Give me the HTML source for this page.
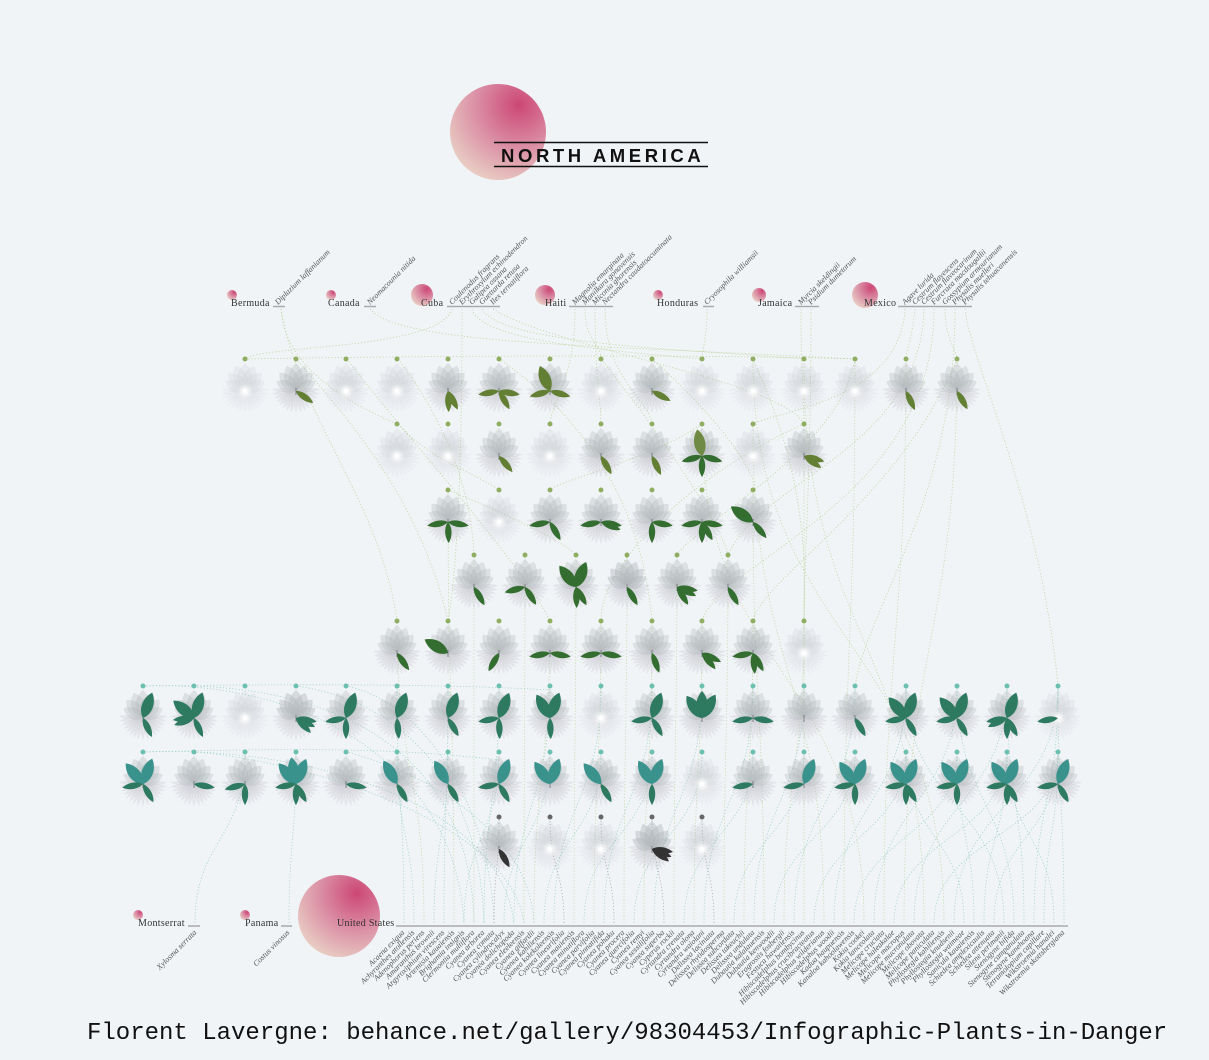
<!DOCTYPE html>
<html><head><meta charset="utf-8"><style>
html,body{margin:0;padding:0;background:#f1f4f7;}
svg{display:block}
.o{fill:#627f34}.g{fill:#346d30}.e{fill:#2e7a60}.t{fill:#3a928d}.k{fill:#333}
.sp{font-family:"Liberation Serif",serif;font-style:italic;font-size:8px;fill:#555}
.cn{font-family:"Liberation Serif",serif;font-size:10px;fill:#333;letter-spacing:.3px}
</style></head><body>
<svg width="1209" height="1060" viewBox="0 0 1209 1060" xmlns="http://www.w3.org/2000/svg">
<defs>
<radialGradient id="pk" cx="0.72" cy="0.22" r="0.95">
<stop offset="0" stop-color="#cc4775"/><stop offset="0.45" stop-color="#da8ba3"/><stop offset="1" stop-color="#ecdccb"/>
</radialGradient>
<filter id="bl" x="-2" y="-2" width="5" height="5"><feGaussianBlur stdDeviation="2.5"/></filter>
<path id="pt" d="M0,0C10,-6 10,-19 0,-28C-10,-19 -10,-6 0,0Z"/>
<path id="rt" d="M0,0C3,-8 2.6,-18 0,-24C-2.6,-18 -3,-8 0,0Z"/>
<g id="P" fill="#adb2b7" fill-opacity=".3">
<use href="#pt" transform="rotate(-64) scale(.78)"/><use href="#pt" transform="rotate(64) scale(.78)"/>
<use href="#pt" transform="rotate(-42) scale(.88)"/><use href="#pt" transform="rotate(42) scale(.88)"/>
<use href="#pt" transform="rotate(-20) scale(.96)"/><use href="#pt" transform="rotate(20) scale(.96)"/>
<use href="#pt"/>
</g>
<g id="R" fill="#b6babf" fill-opacity=".24">
<use href="#rt" transform="rotate(86)"/><use href="#rt" transform="rotate(97) scale(.98)"/><use href="#rt" transform="rotate(108) scale(.95)"/><use href="#rt" transform="rotate(119) scale(.93)"/>
<use href="#rt" transform="rotate(130) scale(.92)"/><use href="#rt" transform="rotate(142) scale(.92)"/><use href="#rt" transform="rotate(154) scale(.92)"/><use href="#rt" transform="rotate(166) scale(.92)"/>
<use href="#rt" transform="rotate(180) scale(.92)"/><use href="#rt" transform="rotate(194) scale(.92)"/><use href="#rt" transform="rotate(206) scale(.92)"/><use href="#rt" transform="rotate(218) scale(.92)"/>
<use href="#rt" transform="rotate(230) scale(.92)"/><use href="#rt" transform="rotate(241) scale(.93)"/><use href="#rt" transform="rotate(252) scale(.95)"/><use href="#rt" transform="rotate(263) scale(.98)"/><use href="#rt" transform="rotate(274)"/>
</g>
<g id="F"><use href="#P"/><use href="#R"/><path d="M0,-3V4" stroke="#7a7f84" stroke-width="1"/></g>
<g id="W"><g opacity=".5"><use href="#P"/><use href="#R"/></g><circle r="5" fill="#fff" filter="url(#bl)"/><circle r="2" fill="#fff"/></g>
<path id="U" d="M0,0C7,-6 8,-18 0,-27C-8,-18 -7,-6 0,0Z"/>
<path id="D" d="M0,0C4,-5 4.5,-14 0,-21C-4.5,-14 -4,-5 0,0Z"/>
</defs>

<!-- title -->
<circle cx="498" cy="132" r="48" fill="url(#pk)"/>
<line x1="494" y1="142.5" x2="708" y2="142.5" stroke="#111" stroke-width="1.5"/>
<line x1="494" y1="166.5" x2="708" y2="166.5" stroke="#111" stroke-width="1.5"/>
<text x="501" y="162" font-family="Liberation Sans, sans-serif" font-weight="bold" font-size="18.5" letter-spacing="3.6" fill="#111">NORTH AMERICA</text>

<!-- connectors top (green) -->
<g fill="none" stroke="#b9cf94" stroke-width=".8" stroke-dasharray="1.2 2" stroke-opacity=".85">
<path d="M281 309C285 360 330 395 397 424"/>
<path d="M370 309C400 345 600 345 855 359"/>
<path d="M452 309C440 350 260 345 245 359"/>
<path d="M462 309C462 500 455 580 448 621"/>
<path d="M472 309C480 340 600 350 702 359"/>
<path d="M482 309C500 345 700 350 804 359"/>
<path d="M493 309C560 350 780 380 804 424"/>
<path d="M575 309C575 380 552 400 550 424"/>
<path d="M585 309C585 340 601 345 601 359"/>
<path d="M595 309C595 380 601 400 601 424"/>
<path d="M605 309C605 380 650 400 652 424"/>
<path d="M707 309C707 340 702 350 702 359"/>
<path d="M801 309C801 380 804 400 804 424"/>
<path d="M811 309C811 480 804 560 804 621"/>
<path d="M905 309C900 400 780 410 753 424"/>
<path d="M915 309C912 340 906 350 906 359"/>
<path d="M924 309C920 450 760 480 728 555"/>
<path d="M934 309C934 500 720 560 702 621"/>
<path d="M945 309C945 340 957 350 957 359"/>
<path d="M955 309C955 500 870 600 855 686"/>
<path d="M965 309C970 360 1040 500 1058 686"/>
<path d="M245 359C400 356 700 354 855 359"/>
<path d="M296 359C350 420 420 500 448 621"/>
<path d="M347 359C400 430 520 560 550 621"/>
<path d="M398 359C430 400 470 470 474 555"/>
<path d="M281 309C300 420 380 500 397 621"/>
<path d="M499 359C560 400 640 480 652 621"/>
<path d="M601 359C650 420 720 520 728 555"/>
<path d="M652 359C700 400 760 470 753 490"/>
<path d="M753 359C780 420 810 500 804 621"/>
<path d="M855 359C840 450 700 520 677 555"/>
<path d="M702 424C650 460 560 480 550 490"/>
<path d="M398 424C430 460 470 470 499 490"/>
<path d="M957 359C900 500 760 580 753 621"/>
<path d="M804 424C700 470 600 560 601 621"/>
<path d="M448 490C520 520 560 540 576 555"/>
</g>

<!-- connectors bottom green -->
<g fill="none" stroke="#bdd29a" stroke-width=".8" stroke-dasharray="1.2 2" stroke-opacity=".85">
<path d="M424 923C424 772 397 772 397 621"/>
<path d="M454 923C454 706 448 706 448 490"/>
<path d="M474 923C474 739 474 739 474 555"/>
<path d="M524 923C524 739 525 739 525 555"/>
<path d="M534 923C534 772 550 772 550 621"/>
<path d="M574 923C574 739 576 739 576 555"/>
<path d="M594 923C594 772 601 772 601 621"/>
<path d="M624 923C624 739 627 739 627 555"/>
<path d="M644 923C644 772 652 772 652 621"/>
<path d="M674 923C674 739 677 739 677 555"/>
<path d="M694 923C694 772 702 772 702 621"/>
<path d="M724 923C724 739 728 739 728 555"/>
<path d="M744 923C744 772 753 772 753 621"/>
<path d="M764 923C764 706 753 706 753 490"/>
<path d="M784 923C784 772 804 772 804 621"/>
<path d="M804 923C804 673 804 673 804 424"/>
<path d="M824 923C824 673 753 673 753 424"/>
<path d="M844 923C844 641 855 641 855 359"/>
<path d="M864 923C864 673 702 673 702 424"/>
<path d="M884 923C884 641 906 641 906 359"/>
<path d="M904 923C904 641 957 641 957 359"/>
<path d="M924 923C924 641 804 641 804 359"/>
<path d="M944 923C944 641 753 641 753 359"/>
</g>
<!-- connectors bottom teal -->
<g fill="none" stroke="#9bcfc5" stroke-width=".8" stroke-dasharray="1.2 2" stroke-opacity=".9">
<path d="M404 923C404 804 397 804 397 686"/>
<path d="M414 923C414 837 397 837 397 752"/>
<path d="M434 923C434 837 448 837 448 752"/>
<path d="M444 923C444 804 448 804 448 686"/>
<path d="M464 923C464 837 499 837 499 752"/>
<path d="M484 923C484 804 499 804 499 686"/>
<path d="M504 923C504 837 550 837 550 752"/>
<path d="M514 923C514 804 550 804 550 686"/>
<path d="M544 923C544 837 601 837 601 752"/>
<path d="M554 923C554 804 601 804 601 686"/>
<path d="M584 923C584 837 652 837 652 752"/>
<path d="M604 923C604 804 652 804 652 686"/>
<path d="M634 923C634 837 702 837 702 752"/>
<path d="M654 923C654 804 702 804 702 686"/>
<path d="M684 923C684 837 753 837 753 752"/>
<path d="M704 923C704 804 753 804 753 686"/>
<path d="M734 923C734 837 804 837 804 752"/>
<path d="M754 923C754 804 804 804 804 686"/>
<path d="M774 923C774 837 855 837 855 752"/>
<path d="M794 923C794 804 855 804 855 686"/>
<path d="M814 923C814 837 906 837 906 752"/>
<path d="M834 923C834 804 906 804 906 686"/>
<path d="M854 923C854 837 957 837 957 752"/>
<path d="M874 923C874 804 957 804 957 686"/>
<path d="M894 923C894 837 1007 837 1007 752"/>
<path d="M914 923C914 804 1007 804 1007 686"/>
<path d="M934 923C934 837 1058 837 1058 752"/>
<path d="M954 923C954 804 1058 804 1058 686"/>
<path d="M964 923C964 837 906 837 906 752"/>
<path d="M974 923C974 837 957 837 957 752"/>
<path d="M984 923C984 837 1007 837 1007 752"/>
<path d="M994 923C994 837 1058 837 1058 752"/>
<path d="M1004 923C1004 804 906 804 906 686"/>
<path d="M1014 923C1014 804 957 804 957 686"/>
<path d="M1024 923C1024 804 1007 804 1007 686"/>
<path d="M1034 923C1034 804 1058 804 1058 686"/>
<path d="M1044 923C1044 837 1058 837 1058 752"/>
<path d="M1054 923C1054 837 1007 837 1007 752"/>
<path d="M1064 923C1064 804 1058 804 1058 686"/>
<path d="M195 923C195 840 245 840 245 752"/>
<path d="M289 923C289 840 296 840 296 752"/>
<path d="M143 686C300 680 455 760 464 923"/>
<path d="M194 686C320 690 470 740 474 923"/>
<path d="M296 686C400 700 480 780 484 923"/>
<path d="M346 686C420 700 490 800 494 923"/>
<path d="M143 752C300 745 500 800 514 923"/>
<path d="M194 752C300 760 510 820 524 923"/>
<path d="M346 752C420 770 530 830 534 923"/>
<path d="M143 686C300 684 450 684 550 690"/>
<path d="M143 752C300 748 400 748 500 760"/>
</g>
<g fill="none" stroke="#aaa" stroke-width=".8" stroke-dasharray="1.2 2">
<path d="M494 923C494 870 499 870 499 817"/>
<path d="M564 923C564 870 550 870 550 817"/>
<path d="M614 923C614 870 601 870 601 817"/>
<path d="M664 923C664 870 652 870 652 817"/>
<path d="M714 923C714 870 702 870 702 817"/>
</g>

<!-- dots -->
<g fill="#8fae62">
<circle cx="245" cy="359" r="2.5"/><circle cx="296" cy="359" r="2.5"/><circle cx="346" cy="359" r="2.5"/><circle cx="397" cy="359" r="2.5"/><circle cx="448" cy="359" r="2.5"/><circle cx="499" cy="359" r="2.5"/><circle cx="550" cy="359" r="2.5"/><circle cx="601" cy="359" r="2.5"/><circle cx="652" cy="359" r="2.5"/><circle cx="702" cy="359" r="2.5"/><circle cx="753" cy="359" r="2.5"/><circle cx="804" cy="359" r="2.5"/><circle cx="855" cy="359" r="2.5"/><circle cx="906" cy="359" r="2.5"/><circle cx="957" cy="359" r="2.5"/>
<circle cx="397" cy="424" r="2.5"/><circle cx="448" cy="424" r="2.5"/><circle cx="499" cy="424" r="2.5"/><circle cx="550" cy="424" r="2.5"/><circle cx="601" cy="424" r="2.5"/><circle cx="652" cy="424" r="2.5"/><circle cx="702" cy="424" r="2.5"/><circle cx="753" cy="424" r="2.5"/><circle cx="804" cy="424" r="2.5"/>
<circle cx="448" cy="490" r="2.5"/><circle cx="499" cy="490" r="2.5"/><circle cx="550" cy="490" r="2.5"/><circle cx="601" cy="490" r="2.5"/><circle cx="652" cy="490" r="2.5"/><circle cx="702" cy="490" r="2.5"/><circle cx="753" cy="490" r="2.5"/>
<circle cx="474" cy="555" r="2.5"/><circle cx="525" cy="555" r="2.5"/><circle cx="576" cy="555" r="2.5"/><circle cx="627" cy="555" r="2.5"/><circle cx="677" cy="555" r="2.5"/><circle cx="728" cy="555" r="2.5"/>
<circle cx="397" cy="621" r="2.5"/><circle cx="448" cy="621" r="2.5"/><circle cx="499" cy="621" r="2.5"/><circle cx="550" cy="621" r="2.5"/><circle cx="601" cy="621" r="2.5"/><circle cx="652" cy="621" r="2.5"/><circle cx="702" cy="621" r="2.5"/><circle cx="753" cy="621" r="2.5"/><circle cx="804" cy="621" r="2.5"/>
</g>
<g fill="#6dc0b0">
<circle cx="143" cy="686" r="2.5"/><circle cx="194" cy="686" r="2.5"/><circle cx="245" cy="686" r="2.5"/><circle cx="296" cy="686" r="2.5"/><circle cx="346" cy="686" r="2.5"/><circle cx="397" cy="686" r="2.5"/><circle cx="448" cy="686" r="2.5"/><circle cx="499" cy="686" r="2.5"/><circle cx="550" cy="686" r="2.5"/><circle cx="601" cy="686" r="2.5"/><circle cx="652" cy="686" r="2.5"/><circle cx="702" cy="686" r="2.5"/><circle cx="753" cy="686" r="2.5"/><circle cx="804" cy="686" r="2.5"/><circle cx="855" cy="686" r="2.5"/><circle cx="906" cy="686" r="2.5"/><circle cx="957" cy="686" r="2.5"/><circle cx="1007" cy="686" r="2.5"/><circle cx="1058" cy="686" r="2.5"/>
<circle cx="143" cy="752" r="2.5"/><circle cx="194" cy="752" r="2.5"/><circle cx="245" cy="752" r="2.5"/><circle cx="296" cy="752" r="2.5"/><circle cx="346" cy="752" r="2.5"/><circle cx="397" cy="752" r="2.5"/><circle cx="448" cy="752" r="2.5"/><circle cx="499" cy="752" r="2.5"/><circle cx="550" cy="752" r="2.5"/><circle cx="601" cy="752" r="2.5"/><circle cx="652" cy="752" r="2.5"/><circle cx="702" cy="752" r="2.5"/><circle cx="753" cy="752" r="2.5"/><circle cx="804" cy="752" r="2.5"/><circle cx="855" cy="752" r="2.5"/><circle cx="906" cy="752" r="2.5"/><circle cx="957" cy="752" r="2.5"/><circle cx="1007" cy="752" r="2.5"/><circle cx="1058" cy="752" r="2.5"/>
</g>
<g fill="#666">
<circle cx="499" cy="817" r="2.5"/><circle cx="550" cy="817" r="2.5"/><circle cx="601" cy="817" r="2.5"/><circle cx="652" cy="817" r="2.5"/><circle cx="702" cy="817" r="2.5"/>
</g>

<!-- row 1 -->
<g class="o">
<g transform="translate(245 391)"><use href="#W"/></g>
<g transform="translate(296 391)"><use href="#F"/><use href="#D" transform="rotate(125)"/></g>
<g transform="translate(346 391)"><use href="#W"/></g>
<g transform="translate(397 391)"><use href="#W"/></g>
<g transform="translate(448 391)"><use href="#F"/><use href="#D" transform="rotate(178)"/><use href="#D" transform="rotate(152)"/></g>
<g transform="translate(499 391)"><use href="#F"/><use href="#D" transform="rotate(-100)"/><use href="#D" transform="rotate(100)"/><use href="#D" transform="rotate(150)"/></g>
<g transform="translate(550 391)"><use href="#F"/><use href="#U" transform="rotate(-22)"/><use href="#D" transform="rotate(-105)"/><use href="#D" transform="rotate(105)"/></g>
<g transform="translate(601 391)"><use href="#W"/></g>
<g transform="translate(652 391)"><use href="#F"/><use href="#D" transform="rotate(118)"/></g>
<g transform="translate(702 391)"><use href="#W"/></g>
<g transform="translate(753 391)"><use href="#W"/></g>
<g transform="translate(804 391)"><use href="#W"/></g>
<g transform="translate(855 391)"><use href="#W"/></g>
<g transform="translate(906 391)"><use href="#F"/><use href="#D" transform="rotate(155)"/></g>
<g transform="translate(957 391)"><use href="#F"/><use href="#D" transform="rotate(150)"/></g>
</g>
<!-- row 2 -->
<g class="o">
<g transform="translate(397 456)"><use href="#W"/></g>
<g transform="translate(448 456)"><use href="#W"/></g>
<g transform="translate(499 456)"><use href="#F"/><use href="#D" transform="rotate(140)"/></g>
<g transform="translate(550 456)"><use href="#W"/></g>
<g transform="translate(601 456)"><use href="#F"/><use href="#D" transform="rotate(150)"/></g>
<g transform="translate(652 456)"><use href="#F"/><use href="#D" transform="rotate(155)"/></g>
<g transform="translate(702 456)"><use href="#F"/><use href="#U" transform="rotate(-10)" fill="#6f8a45"/><use href="#D" transform="rotate(-105)" class="g"/><use href="#D" transform="rotate(105)" class="g"/><use href="#D" transform="rotate(180)" class="g"/></g>
<g transform="translate(753 456)"><use href="#W"/></g>
<g transform="translate(804 456)"><use href="#F"/><use href="#D" transform="rotate(105)"/><use href="#D" transform="rotate(125)"/></g>
</g>
<!-- row 3 -->
<g class="g">
<g transform="translate(448 522)"><use href="#F"/><use href="#D" transform="rotate(-100)"/><use href="#D" transform="rotate(100)"/><use href="#D" transform="rotate(178)"/></g>
<g transform="translate(499 522)"><use href="#W"/></g>
<g transform="translate(550 522)"><use href="#F"/><use href="#D" transform="rotate(-100)"/><use href="#D" transform="rotate(150)"/></g>
<g transform="translate(601 522)"><use href="#F"/><use href="#D" transform="rotate(-100)"/><use href="#D" transform="rotate(100)"/><use href="#D" transform="rotate(112)"/></g>
<g transform="translate(652 522)"><use href="#F"/><use href="#D" transform="rotate(100)"/><use href="#D" transform="rotate(180)"/></g>
<g transform="translate(702 522)"><use href="#F"/><use href="#D" transform="rotate(-100)"/><use href="#D" transform="rotate(100)"/><use href="#D" transform="rotate(180)"/><use href="#D" transform="rotate(150)"/></g>
<g transform="translate(753 522)"><use href="#F"/><use href="#U" transform="rotate(-55)"/><use href="#D" transform="rotate(140)"/></g>
</g>
<!-- row 4 -->
<g class="g">
<g transform="translate(474 587)"><use href="#F"/><use href="#D" transform="rotate(150)"/></g>
<g transform="translate(525 587)"><use href="#F"/><use href="#D" transform="rotate(-105)"/><use href="#D" transform="rotate(148)"/></g>
<g transform="translate(576 587)"><use href="#F"/><use href="#U" transform="rotate(-38)"/><use href="#U" transform="rotate(22)"/><use href="#D" transform="rotate(178)"/><use href="#D" transform="rotate(150)"/></g>
<g transform="translate(627 587)"><use href="#F"/><use href="#P" opacity=".5"/><use href="#D" transform="rotate(150)"/></g>
<g transform="translate(677 587)"><use href="#F"/><use href="#D" transform="rotate(100)"/><use href="#D" transform="rotate(115)"/><use href="#D" transform="rotate(148)"/></g>
<g transform="translate(728 587)"><use href="#F"/><use href="#D" transform="rotate(150)"/></g>
</g>
<!-- row 5 -->
<g class="g">
<g transform="translate(397 653)"><use href="#F"/><use href="#D" transform="rotate(145)"/></g>
<g transform="translate(448 653)"><use href="#F"/><use href="#U" transform="rotate(-60)"/></g>
<g transform="translate(499 653)"><use href="#F"/><use href="#D" transform="rotate(210)"/></g>
<g transform="translate(550 653)"><use href="#F"/><use href="#D" transform="rotate(-100)"/><use href="#D" transform="rotate(100)"/></g>
<g transform="translate(601 653)"><use href="#F"/><use href="#D" transform="rotate(-100)"/><use href="#D" transform="rotate(100)"/></g>
<g transform="translate(652 653)"><use href="#F"/><use href="#D" transform="rotate(160)"/></g>
<g transform="translate(702 653)"><use href="#F"/><use href="#D" transform="rotate(115)"/><use href="#D" transform="rotate(140)"/></g>
<g transform="translate(753 653)"><use href="#F"/><use href="#D" transform="rotate(-100)"/><use href="#D" transform="rotate(150)"/><use href="#D" transform="rotate(175)"/></g>
<g transform="translate(804 653)"><use href="#W"/></g>
</g>
<!-- row 6 -->
<g class="e">
<g transform="translate(143 718)"><use href="#F"/><use href="#U" transform="rotate(20)"/><use href="#D" transform="rotate(155)"/></g>
<g transform="translate(194 718)"><use href="#F"/><use href="#U" transform="rotate(-50)"/><use href="#U" transform="rotate(18)"/><use href="#D" transform="rotate(-95)"/><use href="#D" transform="rotate(-110)"/><use href="#D" transform="rotate(155)"/></g>
<g transform="translate(245 718)"><use href="#W"/></g>
<g transform="translate(296 718)"><use href="#F"/><use href="#P" opacity=".4"/><use href="#D" transform="rotate(100)"/><use href="#D" transform="rotate(115)"/><use href="#D" transform="rotate(135)"/></g>
<g transform="translate(346 718)"><use href="#F"/><use href="#U" transform="rotate(20)"/><use href="#D" transform="rotate(-100)"/><use href="#D" transform="rotate(180)"/></g>
<g transform="translate(397 718)"><use href="#F"/><use href="#U" transform="rotate(20)"/><use href="#D" transform="rotate(175)"/></g>
<g transform="translate(448 718)"><use href="#F"/><use href="#U" transform="rotate(20)"/><use href="#D" transform="rotate(150)"/></g>
<g transform="translate(499 718)"><use href="#F"/><use href="#U" transform="rotate(22)"/><use href="#D" transform="rotate(-100)"/><use href="#D" transform="rotate(178)"/></g>
<g transform="translate(550 718)"><use href="#F"/><use href="#U" transform="rotate(-30)"/><use href="#U" transform="rotate(20)"/><use href="#D" transform="rotate(178)"/></g>
<g transform="translate(601 718)"><use href="#W"/></g>
<g transform="translate(652 718)"><use href="#F"/><use href="#U" transform="rotate(20)"/><use href="#D" transform="rotate(-100)"/><use href="#D" transform="rotate(150)"/></g>
<g transform="translate(702 718)"><use href="#F"/><use href="#U" transform="rotate(-35)"/><use href="#U" transform="rotate(0)"/><use href="#U" transform="rotate(30)"/></g>
<g transform="translate(753 718)"><use href="#F"/><use href="#D" transform="rotate(-100)"/><use href="#D" transform="rotate(100)"/></g>
<g transform="translate(804 718)"><use href="#F"/></g>
<g transform="translate(855 718)"><use href="#F"/><use href="#D" transform="rotate(150)"/></g>
<g transform="translate(906 718)"><use href="#F"/><use href="#U" transform="rotate(-40)"/><use href="#U" transform="rotate(20)"/><use href="#D" transform="rotate(-100)"/><use href="#D" transform="rotate(150)"/></g>
<g transform="translate(957 718)"><use href="#F"/><use href="#U" transform="rotate(-40)"/><use href="#U" transform="rotate(20)"/><use href="#D" transform="rotate(-100)"/><use href="#D" transform="rotate(150)"/></g>
<g transform="translate(1007 718)"><use href="#F"/><use href="#U" transform="rotate(20)"/><use href="#D" transform="rotate(-100)"/><use href="#D" transform="rotate(-115)"/><use href="#D" transform="rotate(180)"/><use href="#D" transform="rotate(150)"/></g>
<g transform="translate(1058 718)"><use href="#W"/><use href="#D" transform="rotate(-100)"/></g>
</g>
<!-- row 7 -->
<g class="t">
<g transform="translate(143 784)"><use href="#F"/><use href="#U" transform="rotate(-40)"/><use href="#U" transform="rotate(20)"/><use href="#D" transform="rotate(-100)" class="e"/><use href="#D" transform="rotate(150)" class="e"/></g>
<g transform="translate(194 784)"><use href="#F"/><use href="#D" transform="rotate(100)" class="e"/></g>
<g transform="translate(245 784)"><use href="#F"/><use href="#D" transform="rotate(-105)" class="e"/><use href="#D" transform="rotate(180)" class="e"/></g>
<g transform="translate(296 784)"><use href="#F"/><use href="#U" transform="rotate(-40)"/><use href="#U" transform="rotate(-10)"/><use href="#U" transform="rotate(22)"/><use href="#D" transform="rotate(-100)" class="e"/><use href="#D" transform="rotate(180)" class="e"/><use href="#D" transform="rotate(150)" class="e"/></g>
<g transform="translate(346 784)"><use href="#F"/><use href="#D" transform="rotate(100)" class="e"/></g>
<g transform="translate(397 784)"><use href="#F"/><use href="#U" transform="rotate(-30)"/><use href="#D" transform="rotate(150)" class="e"/></g>
<g transform="translate(448 784)"><use href="#F"/><use href="#U" transform="rotate(-30)"/><use href="#D" transform="rotate(150)" class="e"/></g>
<g transform="translate(499 784)"><use href="#F"/><use href="#U" transform="rotate(22)"/><use href="#D" transform="rotate(-100)" class="e"/><use href="#D" transform="rotate(150)" class="e"/></g>
<g transform="translate(550 784)"><use href="#F"/><use href="#U" transform="rotate(-35)"/><use href="#U" transform="rotate(20)"/></g>
<g transform="translate(601 784)"><use href="#F"/><use href="#U" transform="rotate(-40)"/><use href="#D" transform="rotate(150)" class="e"/></g>
<g transform="translate(652 784)"><use href="#F"/><use href="#U" transform="rotate(-30)"/><use href="#U" transform="rotate(22)"/><use href="#D" transform="rotate(180)" class="e"/></g>
<g transform="translate(702 784)"><use href="#W"/></g>
<g transform="translate(753 784)"><use href="#F"/><use href="#D" transform="rotate(-100)" class="e"/></g>
<g transform="translate(804 784)"><use href="#F"/><use href="#U" transform="rotate(22)"/><use href="#D" transform="rotate(-100)" class="e"/></g>
<g transform="translate(855 784)"><use href="#F"/><use href="#U" transform="rotate(-35)"/><use href="#U" transform="rotate(22)"/><use href="#D" transform="rotate(-100)" class="e"/><use href="#D" transform="rotate(180)" class="e"/></g>
<g transform="translate(906 784)"><use href="#F"/><use href="#U" transform="rotate(-35)"/><use href="#U" transform="rotate(22)"/><use href="#D" transform="rotate(-100)" class="e"/><use href="#D" transform="rotate(180)" class="e"/><use href="#D" transform="rotate(150)" class="e"/></g>
<g transform="translate(957 784)"><use href="#F"/><use href="#U" transform="rotate(-35)"/><use href="#U" transform="rotate(22)"/><use href="#D" transform="rotate(-100)" class="e"/><use href="#D" transform="rotate(180)" class="e"/></g>
<g transform="translate(1007 784)"><use href="#F"/><use href="#U" transform="rotate(-35)"/><use href="#U" transform="rotate(22)"/><use href="#D" transform="rotate(-100)" class="e"/><use href="#D" transform="rotate(180)" class="e"/><use href="#D" transform="rotate(150)" class="e"/></g>
<g transform="translate(1058 784)"><use href="#F"/><use href="#U" transform="rotate(22)"/><use href="#D" transform="rotate(-100)" class="e"/><use href="#D" transform="rotate(150)" class="e"/></g>
</g>
<!-- row 8 -->
<g class="k">
<g transform="translate(499 849)"><use href="#F"/><use href="#D" transform="rotate(150)"/></g>
<g transform="translate(550 849)"><use href="#W"/></g>
<g transform="translate(601 849)"><use href="#W"/></g>
<g transform="translate(652 849)"><use href="#F"/><use href="#P" opacity=".5"/><use href="#D" transform="rotate(98)"/><use href="#D" transform="rotate(112)"/><use href="#D" transform="rotate(126)"/></g>
<g transform="translate(702 849)"><use href="#W"/></g>
</g>

<!-- top countries -->
<g>
<circle cx="232" cy="295" r="5" fill="url(#pk)"/>
<circle cx="331" cy="295" r="5" fill="url(#pk)"/>
<circle cx="422" cy="295" r="11" fill="url(#pk)"/>
<circle cx="545" cy="295" r="10" fill="url(#pk)"/>
<circle cx="658" cy="295" r="5" fill="url(#pk)"/>
<circle cx="759" cy="295" r="7" fill="url(#pk)"/>
<circle cx="865" cy="295" r="13" fill="url(#pk)"/>
</g>
<g stroke="#a8aaad" stroke-width="1.5">
<line x1="273" y1="306.5" x2="285" y2="306.5"/>
<line x1="364" y1="306.5" x2="376" y2="306.5"/>
<line x1="447" y1="306.5" x2="500" y2="306.5"/>
<line x1="569" y1="306.5" x2="613" y2="306.5"/>
<line x1="703" y1="306.5" x2="714" y2="306.5"/>
<line x1="795" y1="306.5" x2="819" y2="306.5"/>
<line x1="898" y1="306.5" x2="972" y2="306.5"/>
</g>
<g class="cn">
<text x="231" y="306">Bermuda</text>
<text x="328" y="306">Canada</text>
<text x="421" y="306">Cuba</text>
<text x="545" y="306">Haiti</text>
<text x="657" y="306">Honduras</text>
<text x="758" y="306">Jamaica</text>
<text x="864" y="306">Mexico</text>
</g>
<g class="sp">
<text transform="translate(278 305) rotate(-45)">Diplazium laffanianum</text>
<text transform="translate(370 305) rotate(-45)">Neomacounia nitida</text>
<text transform="translate(452 305) rotate(-45)">Coulenodus fragrans</text>
<text transform="translate(462 305) rotate(-45)">Erythroxylum echinodendron</text>
<text transform="translate(472 305) rotate(-45)">Galipea ossana</text>
<text transform="translate(482 305) rotate(-45)">Guettarda retusa</text>
<text transform="translate(493 305) rotate(-45)">Ilex ternatiflora</text>
<text transform="translate(575 305) rotate(-45)">Magnolia emarginata</text>
<text transform="translate(585 305) rotate(-45)">Manilkara gonavensis</text>
<text transform="translate(595 305) rotate(-45)">Miconia ghorensis</text>
<text transform="translate(605 305) rotate(-45)">Nectandra caudatoacuminata</text>
<text transform="translate(707 305) rotate(-45)">Cryosophila williamsii</text>
<text transform="translate(801 305) rotate(-45)">Myrcia skeldingii</text>
<text transform="translate(811 305) rotate(-45)">Psidium dumetorum</text>
<text transform="translate(905 305) rotate(-45)">Agave lurida</text>
<text transform="translate(915 305) rotate(-45)">Cestrum flavescens</text>
<text transform="translate(924 305) rotate(-45)">Cestrum flaveocarinum</text>
<text transform="translate(934 305) rotate(-45)">Furcraea macdougallii</text>
<text transform="translate(945 305) rotate(-45)">Gossypium armourianum</text>
<text transform="translate(955 305) rotate(-45)">Physalis muelleri</text>
<text transform="translate(965 305) rotate(-45)">Physalis tehuacanensis</text>
</g>

<!-- bottom countries -->
<circle cx="339" cy="916" r="41" fill="url(#pk)"/>
<circle cx="138" cy="915" r="5" fill="url(#pk)"/>
<circle cx="245" cy="915" r="5" fill="url(#pk)"/>
<g stroke="#a8aaad" stroke-width="1.5">
<line x1="188" y1="926" x2="200" y2="926"/>
<line x1="281" y1="926" x2="292" y2="926"/>
<line x1="396" y1="926" x2="1068" y2="926"/>
</g>
<g class="cn">
<text x="138" y="926">Montserrat</text>
<text x="245" y="926">Panama</text>
<text x="337" y="926">United States</text>
</g>
<g class="sp" text-anchor="end">
<text transform="translate(197 933) rotate(-45)">Xylosma serrata</text>
<text transform="translate(290 933) rotate(-45)">Costus vinosus</text>
<text transform="translate(405 933) rotate(-45)">Acaena exigua</text>
<text transform="translate(415 933) rotate(-45)">Achyranthes atollensis</text>
<text transform="translate(425 933) rotate(-45)">Adenophorus periens</text>
<text transform="translate(435 933) rotate(-45)">Amaranthus brownii</text>
<text transform="translate(445 933) rotate(-45)">Argyroxiphium virescens</text>
<text transform="translate(455 933) rotate(-45)">Artemisia kauaiensis</text>
<text transform="translate(465 933) rotate(-45)">Brighamia insignis</text>
<text transform="translate(475 933) rotate(-45)">Clermontia multiflora</text>
<text transform="translate(485 933) rotate(-45)">Cyanea arborea</text>
<text transform="translate(495 933) rotate(-45)">Cyanea comata</text>
<text transform="translate(505 933) rotate(-45)">Cyanea cylindrocalyx</text>
<text transform="translate(515 933) rotate(-45)">Cyanea dolichopoda</text>
<text transform="translate(525 933) rotate(-45)">Cyanea eleeleensis</text>
<text transform="translate(535 933) rotate(-45)">Cyanea giffardii</text>
<text transform="translate(545 933) rotate(-45)">Cyanea kahiliensis</text>
<text transform="translate(555 933) rotate(-45)">Cyanea kolekoleensis</text>
<text transform="translate(565 933) rotate(-45)">Cyanea linearifolia</text>
<text transform="translate(575 933) rotate(-45)">Cyanea mauiensis</text>
<text transform="translate(585 933) rotate(-45)">Cyanea minutiflora</text>
<text transform="translate(595 933) rotate(-45)">Cyanea parvifolia</text>
<text transform="translate(605 933) rotate(-45)">Cyanea pinnatifida</text>
<text transform="translate(615 933) rotate(-45)">Cyanea pohaku</text>
<text transform="translate(625 933) rotate(-45)">Cyanea procera</text>
<text transform="translate(635 933) rotate(-45)">Cyanea quercifolia</text>
<text transform="translate(645 933) rotate(-45)">Cyanea remyi</text>
<text transform="translate(655 933) rotate(-45)">Cyanea sessilifolia</text>
<text transform="translate(665 933) rotate(-45)">Cyanea superba</text>
<text transform="translate(675 933) rotate(-45)">Cyperus rockii</text>
<text transform="translate(685 933) rotate(-45)">Cyrtandra crenata</text>
<text transform="translate(695 933) rotate(-45)">Cyrtandra olona</text>
<text transform="translate(705 933) rotate(-45)">Cyrtandra waiolani</text>
<text transform="translate(715 933) rotate(-45)">Delissea laciniata</text>
<text transform="translate(725 933) rotate(-45)">Delissea rhytidosperma</text>
<text transform="translate(735 933) rotate(-45)">Delissea subcordata</text>
<text transform="translate(745 933) rotate(-45)">Delissea takeuchii</text>
<text transform="translate(755 933) rotate(-45)">Delissea undulata</text>
<text transform="translate(765 933) rotate(-45)">Dubautia kalalauensis</text>
<text transform="translate(775 933) rotate(-45)">Dubautia kenwoodii</text>
<text transform="translate(785 933) rotate(-45)">Eragrostis fosbergii</text>
<text transform="translate(795 933) rotate(-45)">Festuca hawaiiensis</text>
<text transform="translate(805 933) rotate(-45)">Hibiscadelphus bombycinus</text>
<text transform="translate(815 933) rotate(-45)">Hibiscadelphus crucibracteatus</text>
<text transform="translate(825 933) rotate(-45)">Hibiscadelphus wilderianus</text>
<text transform="translate(835 933) rotate(-45)">Hibiscadelphus woodii</text>
<text transform="translate(845 933) rotate(-45)">Kadua haupuensis</text>
<text transform="translate(855 933) rotate(-45)">Kanaloa kahoolawensis</text>
<text transform="translate(865 933) rotate(-45)">Kokia cookei</text>
<text transform="translate(875 933) rotate(-45)">Kokia lanceolata</text>
<text transform="translate(885 933) rotate(-45)">Melicope cruciata</text>
<text transform="translate(895 933) rotate(-45)">Melicope haleakalae</text>
<text transform="translate(905 933) rotate(-45)">Melicope macropus</text>
<text transform="translate(915 933) rotate(-45)">Melicope mucronulata</text>
<text transform="translate(925 933) rotate(-45)">Melicope obovata</text>
<text transform="translate(935 933) rotate(-45)">Melicope paniculata</text>
<text transform="translate(945 933) rotate(-45)">Phyllostegia kahiliensis</text>
<text transform="translate(955 933) rotate(-45)">Phyllostegia knudsenii</text>
<text transform="translate(965 933) rotate(-45)">Phyllostegia waimeae</text>
<text transform="translate(975 933) rotate(-45)">Sanicula kauaiensis</text>
<text transform="translate(985 933) rotate(-45)">Schiedea amplexicaulis</text>
<text transform="translate(995 933) rotate(-45)">Schiedea attenuata</text>
<text transform="translate(1005 933) rotate(-45)">Silene perlmanii</text>
<text transform="translate(1015 933) rotate(-45)">Stenogyne bifida</text>
<text transform="translate(1025 933) rotate(-45)">Stenogyne campanulata</text>
<text transform="translate(1035 933) rotate(-45)">Stenogyne kanehoana</text>
<text transform="translate(1045 933) rotate(-45)">Tetramolopium capillare</text>
<text transform="translate(1055 933) rotate(-45)">Wikstroemia hanalei</text>
<text transform="translate(1065 933) rotate(-45)">Wikstroemia skottsbergiana</text>
</g>

<text x="87" y="1039" font-family="Liberation Mono, DejaVu Sans Mono, monospace" font-size="24" fill="#111">Florent Lavergne: behance.net/gallery/98304453/Infographic-Plants-in-Danger</text>
</svg>
</body></html>
